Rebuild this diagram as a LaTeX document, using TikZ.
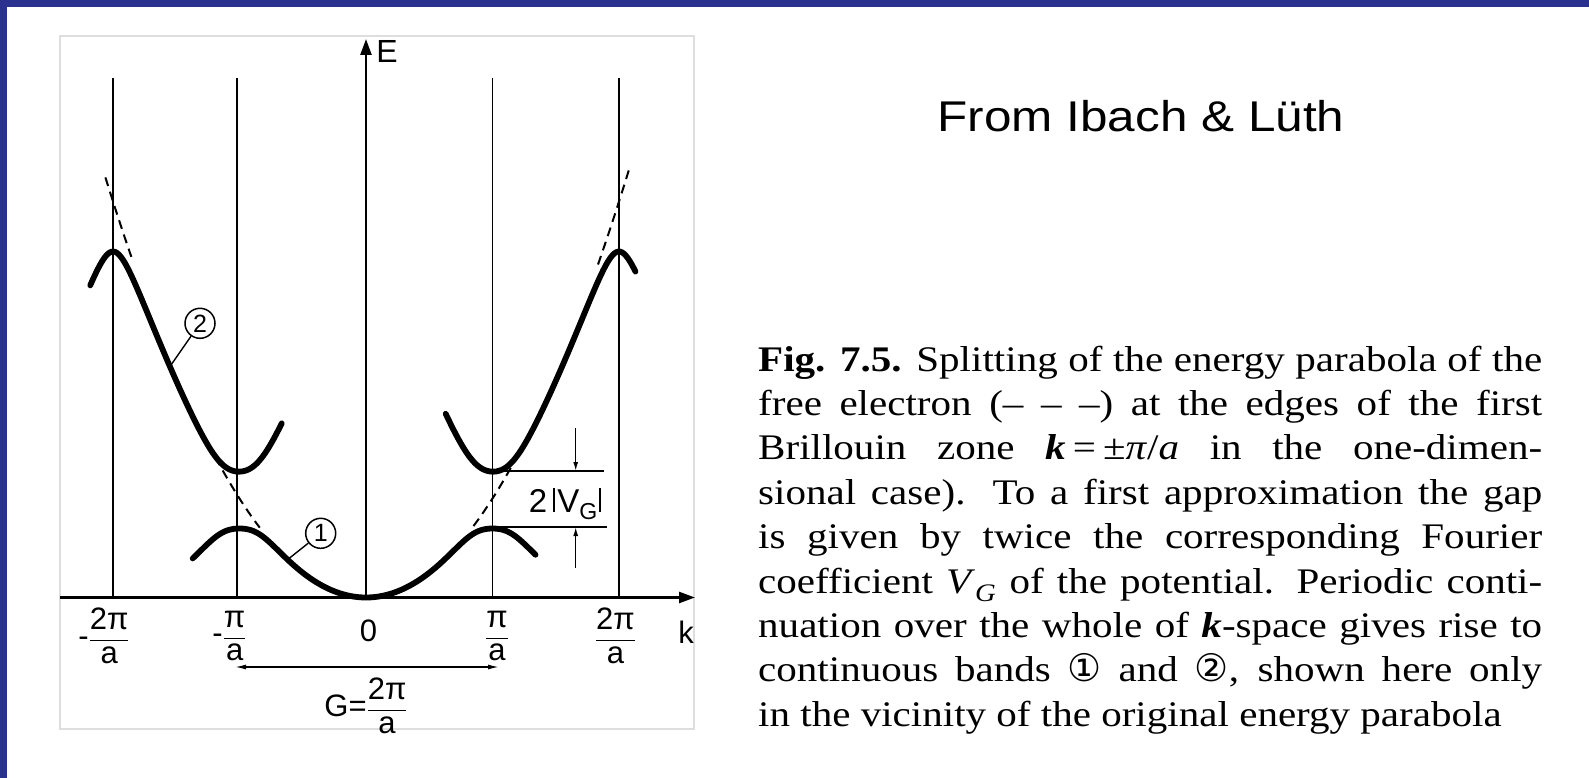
\documentclass[tikz,border=0pt]{standalone}
\usepackage{fontspec}
\setmainfont{Liberation Sans}
\newfontfamily\capfont[FakeStretch=1.14]{Liberation Serif}
\newfontfamily\titlefont[FakeStretch=1.15]{Liberation Sans}
\newfontfamily\symfont{DejaVu Sans}
\usetikzlibrary{arrows.meta}
\definecolor{framebl}{RGB}{43,49,143}
\definecolor{boxgray}{RGB}{222,222,222}
\newcommand{\lfrac}[2]{\displaystyle\frac{\mbox{#1}}{\mbox{#2}}}
\newcommand{\capline}[1]{\makebox[784pt][s]{#1}}
\begin{document}
\begin{tikzpicture}[x=1pt,y=-1pt,
  declare function={
    fe(\k)=(\k)*(\k);
    gapone(\d)=sqrt((\d)*(\d)+0.0918*exp(-min((\d)*(\d)/0.16,20)));
    gaptwo(\d)=sqrt((\d)*(\d)+0.255);
    upone(\k)=((\k)*(\k)-2*(\k)+2)+gapone(2*((\k)-1));
    loone(\k)=((\k)*(\k)-2*(\k)+2)-gapone(2*((\k)-1));
    lotwo(\k)=((\k)*(\k)-4*(\k)+8)-gaptwo(4*((\k)-2));
    bandone(\k)=loone(abs(\k));
    bandtwo(\k)=upone(abs(\k))+lotwo(abs(\k))-fe(abs(\k));
  },
  gridline/.style={line width=1.6pt},
  axisline/.style={line width=2.6pt, -{Triangle[length=16pt,width=11pt]}},
  bandline/.style={line width=5.8pt, line cap=round},
  freeline/.style={line width=2pt, dash pattern=on 9pt off 6pt},
  thinline/.style={line width=1.4pt},
  ticklabel/.style={font=\fontsize{31}{36}\selectfont, inner sep=0pt},
  bandmark/.style={circle, draw, line width=1.5pt, minimum size=30pt, inner sep=0pt, font=\fontsize{25}{28}\selectfont},
]
% page
\fill[white] (0,0) rectangle (1589,778);
\useasboundingbox (0,0) rectangle (1589,778);
\fill[framebl] (0,0) rectangle (1589,7);
\fill[framebl] (0,0) rectangle (7,778);
% figure box
\draw[boxgray, line width=1.2pt] (60,36) rectangle (694,729);

% vertical zone lines
\foreach \n/\xx in {m2/112.7, m1/236.7, p1/492.3, p2/619}{
  \coordinate (top\n) at (\xx,78);
  \coordinate (bot\n) at (\xx,597.5);
  \draw[gridline] (top\n) -- (bot\n);
}
% axes
\coordinate (kstart) at (60,597.5);
\coordinate (kend) at (695,597.5);
\coordinate (O) at (366,597.5);
\coordinate (Etop) at (366,39);
\draw[axisline] (kstart) -- (kend);
\draw[axisline] (O) -- (Etop);

% free-electron parabola (dashed parts)
\draw[freeline] plot[domain=-2.06:-1.855, samples=20] ({366+126.5*\x},{597.5-99*fe(\x)});
\draw[freeline] plot[domain=-1.19:-0.84, samples=20] ({366+126.5*\x},{597.5-99*fe(\x)});
\draw[freeline] plot[domain=0.85:1.144, samples=20] ({366+126.5*\x},{597.5-99*fe(\x)});
\draw[freeline] plot[domain=1.834:2.08, samples=20] ({366+126.5*\x},{597.5-99*fe(\x)});

% bands
\draw[bandline] plot[domain=-1.37:1.34, samples=151, smooth] ({366+126.5*\x},{597.5-99*bandone(\x)});
\draw[bandline] plot[domain=-2.18:-0.666, samples=101, smooth] ({366+126.5*\x},{597.5-99*bandtwo(\x)});
\draw[bandline] plot[domain=0.63:2.13, samples=101, smooth] ({366+126.5*\x},{597.5-99*bandtwo(\x)});

% band markers
\node[bandmark] (c1) at (320.7,533.3) {1};
\node[bandmark] (c2) at (200,323.3) {2};
\coordinate (b1lead) at ({366-126.5*0.62},{597.5-99*bandone(0.62)});
\coordinate (b2lead) at ({366-126.5*1.55},{597.5-99*bandtwo(1.55)});
\draw[thinline] (c1) -- (b1lead);
\draw[thinline] (c2) -- (b2lead);

% gap marker
\coordinate (gapU) at (492.3,471);
\coordinate (gapUe) at (604,471);
\coordinate (gapL) at (492.3,527);
\coordinate (gapLe) at (607,527);
\coordinate (arrUs) at (575.7,428);
\coordinate (arrUt) at (575.7,471);
\coordinate (arrLs) at (575.7,568);
\coordinate (arrLt) at (575.7,527);
\draw[thinline] (gapU) -- (gapUe);
\draw[thinline] (gapL) -- (gapLe);
\draw[thinline, -{Latex[length=9pt,width=5pt]}] (arrUs) -- (arrUt);
\draw[thinline, -{Latex[length=9pt,width=5pt]}] (arrLs) -- (arrLt);
\node[font=\fontsize{33}{38}\selectfont, anchor=base, inner sep=0pt] (vg) at (565,512)
  {2\hspace{6pt}\rule{2.2pt}{24pt}\hspace{2pt}V\textsubscript{G}\hspace{1pt}\rule{2.2pt}{24pt}};

% G arrow
\coordinate (gL) at (235,667);
\coordinate (gR) at (499,667);
\draw[thinline, {Latex[length=11pt,width=5pt]}-{Latex[length=11pt,width=5pt]}] (gL) -- (gR);
\node[ticklabel] (glab) at (366,706) {$\mbox{G=}\lfrac{2π}{a}$};

% tick labels
\node[ticklabel] (lm2) at (104,636) {$\mbox{-}\lfrac{2π}{a}$};
\node[ticklabel] (lm1) at (229.5,636) {$\mbox{-}\lfrac{π}{a}$};
\node[ticklabel] (l0) at (368.5,630.5) {0};
\node[ticklabel] (lp1) at (497,636) {$\lfrac{π}{a}$};
\node[ticklabel] (lp2) at (615.5,636) {$\lfrac{2π}{a}$};
\node[ticklabel] (lk) at (686,632) {k};
\node[font=\fontsize{32}{36}\selectfont, inner sep=0pt] (lE) at (387,51) {E};

% title
\node[font=\titlefont\fontsize{43}{50}\selectfont, anchor=base, inner sep=0pt] (title) at (1141,132) {From Ibach \& Lüth};

% caption
\node[anchor=base west, inner sep=0pt, font=\capfont\fontsize{36}{44.4}\selectfont] (cap) at (758,371)
{\parbox[t]{784pt}{%
\capline{{\bfseries Fig. 7.5.} Splitting of the energy parabola of the}\\
\capline{free electron (–~–~–) at the edges of the first}\\
\capline{Brillouin zone {\bfseries\itshape k}\hspace{0.2em}=\hspace{0.2em}±\textit{π}/\textit{a} in the one-dimen-}\\
\capline{sional case). To a first approximation the gap}\\
\capline{is given by twice the corresponding Fourier}\\
\capline{coefficient \textit{V}\textsubscript{\textit{G}} of the potential. Periodic conti-}\\
\capline{nuation over the whole of {\bfseries\itshape k}-space gives rise to}\\
\capline{continuous bands {\symfont\fontsize{38}{44}\selectfont ①} and {\symfont\fontsize{38}{44}\selectfont ②}, shown here only}\\
in the vicinity of the original energy parabola}};
\end{tikzpicture}
\end{document}
